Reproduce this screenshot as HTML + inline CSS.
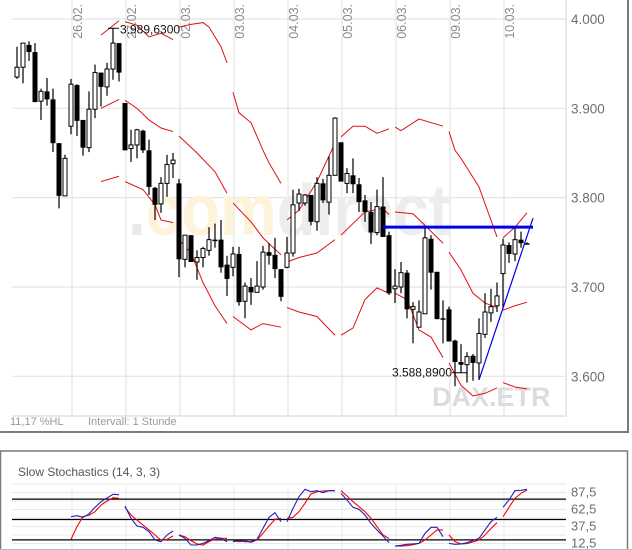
<!DOCTYPE html>
<html><head><meta charset="utf-8"><style>
html,body{margin:0;padding:0;background:#fff;}
svg{display:block;font-family:"Liberation Sans",sans-serif;}
</style></head><body>
<svg id="chart" width="632" height="550" viewBox="0 0 632 550" xmlns="http://www.w3.org/2000/svg">
<g id="main"></g>
<g id="stoch"></g>
</svg>
<script>
// ---- data ----
const dayLabels = ["26.02.","27.02.","02.03.","03.03.","04.03.","05.03.","06.03.","09.03.","10.03."];
const dayStart = [9,18,27,36,45,54,63,72,81];
const priceTicks = [4000,3900,3800,3700,3600];
const priceTickLabels = ["4.000","3.900","3.800","3.700","3.600"];
const opens  = [3935,3946,3971,3963,3908,3919,3910,3861,3802,3880,3926,3887,3856,3899,3940,3924,3944,3973,3906,3855,3859,3875,3853,3811,3793,3816,3838,3816,3731,3758,3728,3733,3741,3753,3753,3725,3722,3737,3684,3700,3694,3700,3739,3736,3720,3722,3738,3794,3794,3803,3773,3816,3795,3825,3862,3816,3825,3815,3797,3784,3761,3790,3758,3698,3700,3716,3675,3655,3670,3754,3717,3665,3675,3640,3616,3613,3623,3615,3647,3671,3679,3715,3747,3737,3753,3749];
const highs  = [3969,3973,3975,3973,3922,3934,3922,3861,3848,3933,3927,3887,3919,3949,3940,3951,3989.63,3973,3906,3876,3877,3876,3865,3812,3823,3848,3850,3821,3758,3758,3741,3745,3767,3771,3775,3735,3745,3745,3705,3710,3729,3746,3749,3755,3720,3756,3809,3810,3804,3803,3823,3821,3846,3890,3862,3833,3844,3822,3803,3795,3809,3823,3762,3720,3728,3719,3683,3685,3767,3758,3717,3685,3678,3641,3636,3627,3625,3665,3693,3698,3705,3754,3750,3768,3762,3750];
const lows   = [3933,3928,3953,3907,3887,3903,3851,3788,3802,3871,3869,3847,3851,3889,3902,3914,3932,3930,3853,3840,3844,3850,3803,3775,3783,3801,3822,3711,3722,3728,3708,3722,3735,3744,3716,3690,3712,3679,3665,3680,3694,3697,3725,3710,3684,3721,3734,3785,3791,3769,3763,3794,3781,3825,3818,3805,3805,3784,3773,3748,3758,3756,3691,3682,3693,3665,3637,3655,3670,3697,3664,3637,3639,3588.89,3604,3593,3595,3596,3643,3661,3672,3677,3727,3729,3744,3748];
const closes = [3946,3973,3963,3907,3919,3910,3861,3802,3844,3927,3886,3856,3899,3940,3924,3944,3973,3940,3853,3859,3876,3853,3812,3792,3816,3837,3842,3731,3758,3728,3733,3743,3753,3752,3722,3709,3737,3683,3701,3694,3701,3739,3735,3720,3689,3738,3792,3804,3803,3773,3816,3797,3825,3889,3818,3827,3815,3795,3784,3761,3790,3756,3693,3701,3716,3675,3678,3672,3755,3716,3664,3664,3639,3616,3613,3622,3615,3648,3672,3678,3690,3747,3737,3753,3749,3748];
// Bollinger bands: per-day segments of [candleIndex, price]
const bbUpper = [
 [[14,3982],[17,3998]],
 [[18,3997],[20,3993],[22,3980],[24,3984],[26,3977]],
 [[27,3991],[29,3994],[31,3996],[32,3991],[34,3969],[35,3951]],
 [[36,3918],[37,3895],[39,3884],[41,3853],[42,3839],[44,3816]],
 [[45,3775],[47,3786],[50,3818],[53,3861]],
 [[54,3868],[56,3880],[58,3880],[60,3872],[62,3877]],
 [[63,3879],[64,3875],[67,3888],[71,3880]],
 [[72,3874],[73,3853],[74,3844],[77,3812],[80,3756]],
 [[81,3755],[83,3767],[85,3783]]];
const bbMiddle = [
 [[14,3900],[17,3910]],
 [[18,3909],[20,3900],[22,3887],[24,3878],[26,3874]],
 [[27,3869],[30,3850],[33,3829],[35,3805]],
 [[36,3794],[39,3773],[41,3755],[44,3736]],
 [[45,3728],[47,3733],[50,3738],[53,3753]],
 [[54,3758],[58,3784],[61,3788],[62,3781]],
 [[63,3784],[66,3782],[68,3769],[71,3749]],
 [[72,3739],[74,3719],[76,3693],[78,3682],[80,3677]],
 [[81,3674],[83,3679],[85,3683]]];
const bbLower = [
 [[14,3818],[17,3824]],
 [[18,3818],[21,3809],[23,3792],[24,3775],[26,3772]],
 [[27,3753],[29,3738],[31,3705],[33,3679],[35,3659]],
 [[36,3667],[39,3652],[41,3659],[44,3655]],
 [[45,3677],[47,3672],[50,3667],[53,3646]],
 [[54,3646],[56,3654],[58,3686],[60,3699],[62,3693]],
 [[63,3693],[65,3686],[67,3652],[69,3644],[71,3621]],
 [[72,3615],[74,3590],[76,3578],[78,3581],[80,3587]],
 [[81,3593],[83,3588],[85,3586]]];
const resistanceLine = [[61,3767],[86,3767]];
const trendLine = [[77,3596],[86,3777]];
const maxLabel = "3.989,6300", minLabel = "3.588,8900";
const maxIdx = 16, minIdx = 74;
// Stochastics
const stochTicks = [87.5,62.5,37.5,12.5];
const stochTickLabels = ["87,5","62,5","37,5","12,5"];
const stochLevels = [80,50,20];
const stochK = [
 [52,53.4,51,56,65.7,74,79.5,84.8,84.3],
 [67.6,49.5,38.2,36.3,29.9,17.6,15.2,25,30.9],
 [25,20.1,10.3,10.3,12.7,16.7,21.6,20.1,15.2],
 [15.2,16.7,15.2,15.2,18.6,34.8,51,57.8,44.6],
 [44.6,64.2,81.4,92.2,88.7,90.2,87.3,90.2,90.2],
 [86.3,76.5,65.7,62.8,54.4,42,32.4,23.5,13.7],
 [8.8,9.8,11.3,11.8,12.7,27.5,36.3,36.3,22.5],
 [12.7,11.3,11.8,13.7,16.7,20.1,32.4,44.6,51],
 [65.7,76.5,90.2,90.7,92.2]];
const stochD = [
 [18.6,37.3,52,54,59.3,69,75,79.9,78.9],
 [65.7,54.4,47,39.6,32.4,25,17.6,18.6,23.5],
 [25,22.5,16.7,11.8,10.3,15.2,19.1,20.1,20.1],
 [16.7,15.2,16.7,14.2,17.6,27.5,38.2,48,49.5],
 [49.5,51,59.3,71.6,85.3,88.7,89.7,90.2,90.2],
 [90.2,82.4,74,66.6,59.3,49.5,37.3,25,20.1],
 [8.8,8.8,9.3,10.8,12.7,17.6,25,32.4,32.4],
 [25,15.2,11.8,12.3,14.7,17.6,25,34.8,43.1],
 [52,65.7,78.9,86.3,91.2]];

// ---- scales ----
const NS="http://www.w3.org/2000/svg";
const X = i => 17 + 6*i;
const Y = p => 19 + (4000-p)*0.8933;
const SY = v => 543.5 - (v-12.5)*0.68;
function mk(tag, attrs, parent, text){
  const e=document.createElementNS(NS,tag);
  for(const k in attrs) e.setAttribute(k,attrs[k]);
  if(text!==undefined) e.textContent=text;
  parent.appendChild(e); return e;
}
const main=document.getElementById('main');
const st=document.getElementById('stoch');
const PL=12, PR=566, PB=416;

// grid
priceTicks.forEach((p,k)=>{
  const l=mk('line',{x1:PL,x2:PR,y1:Y(p),y2:Y(p),stroke:'#e4e4e4','stroke-width':1.2},main);
  
  
  const t=mk('text',{x:571,y:Y(p)+5,'font-size':13.5,fill:'#6e6e6e'},main,priceTickLabels[k]);
  
  
});
dayStart.forEach((d,k)=>{
  const gx=X(d)+1;
  const l=mk('line',{x1:gx,x2:gx,y1:0,y2:PB,stroke:'#e4e4e4','stroke-width':1.2},main);
  
  
  const t=mk('text',{transform:`translate(${gx+10},4) rotate(-90)`,'text-anchor':'end','font-size':12.5,fill:'#8a8a8a'},main,dayLabels[k]);
  
  
});
// watermarks
const wm=mk('text',{x:128,y:235,'font-size':72,'font-weight':'bold',textLength:322,lengthAdjust:'spacingAndGlyphs'},main);


mk('tspan',{fill:'#e9e9e9'},wm,'.');
mk('tspan',{fill:'#fdf3da'},wm,'com');
mk('tspan',{fill:'#ededed'},wm,'direct');
const dx=mk('text',{x:432,y:406,'font-size':27,'font-weight':'bold',fill:'#dcdcdc'},main,'DAX.ETR');


// plot border
const pb=mk('polyline',{points:`${PL},${PB} ${PR},${PB} ${PR},0`,fill:'none',stroke:'#dcdcdc','stroke-width':1.2},main);



// bands
function drawSegs(segs,name){
  segs.forEach(s=>{
    const pl=mk('polyline',{points:s.map(q=>X(q[0])+','+Y(q[1])).join(' '),fill:'none',stroke:'#e01010','stroke-width':1},main);
    
    
  });
}
drawSegs(bbUpper,'bollinger-upper');
drawSegs(bbMiddle,'bollinger-middle');
drawSegs(bbLower,'bollinger-lower');

// candles
opens.forEach((o,i)=>{
  const c=closes[i], h=highs[i], lo=lows[i], x=X(i);
  const g=mk('g',{},main);
  
  
  mk('line',{x1:x,x2:x,y1:Y(h),y2:Y(lo),stroke:'#000','stroke-width':1.2},g);
  const top=Y(Math.max(o,c)), bot=Y(Math.min(o,c));
  if(c>=o) mk('rect',{x:x-2,y:top,width:4,height:Math.max(1,bot-top),fill:'#fff',stroke:'#000','stroke-width':1},g);
  else mk('rect',{x:x-2.5,y:top,width:5,height:Math.max(1.5,bot-top),fill:'#000'},g);
});
// lines
const rl=mk('line',{x1:X(resistanceLine[0][0]),y1:Y(resistanceLine[0][1]),x2:X(resistanceLine[1][0]),y2:Y(resistanceLine[1][1]),stroke:'#0000ee','stroke-width':3},main);


const tl=mk('line',{x1:X(trendLine[0][0]),y1:Y(trendLine[0][1]),x2:X(trendLine[1][0]),y2:Y(trendLine[1][1]),stroke:'#0000ee','stroke-width':1.2},main);


// extreme labels
const mxx=X(maxIdx), mxy=Y(highs[maxIdx]);
mk('line',{x1:mxx-5,x2:mxx+6,y1:mxy,y2:mxy,stroke:'#000','stroke-width':1},main);
const mt=mk('text',{x:mxx+7,y:mxy+5,'font-size':12,fill:'#111'},main,maxLabel);


const mnx=X(minIdx), mny=Y(lows[minIdx]);
mk('line',{x1:mnx-9,x2:mnx+6,y1:mny,y2:mny,stroke:'#000','stroke-width':1},main);
const nt=mk('text',{x:mnx-9,y:mny+4,'text-anchor':'end','font-size':12,fill:'#111'},main,minLabel);


// footer
const f1=mk('text',{x:10,y:425,'font-size':11,fill:'#9a9a9a'},main,'11,17 %HL');


const f2=mk('text',{x:88,y:425,'font-size':11,fill:'#9a9a9a'},main,'Intervall: 1 Stunde');


// main frame
const mf=mk('polyline',{points:'0,432 628,432 628,0',fill:'none',stroke:'#7a7a7a','stroke-width':2},main);



// ---- stochastics ----
const sf=mk('rect',{x:0.5,y:451,width:627,height:110,fill:'none',stroke:'#7a7a7a','stroke-width':1.5},st);


const stt=mk('text',{x:18,y:476,'font-size':12,fill:'#555'},st,'Slow Stochastics (14, 3, 3)');


[100,87.5,75,62.5,50,37.5,25,12.5,0].forEach(v=>{
  const l=mk('line',{x1:PL,x2:PR,y1:SY(v),y2:SY(v),stroke:'#e8e8e8','stroke-width':1},st);
  
  
});
dayStart.forEach(d=>{
  const l=mk('line',{x1:X(d)+1,x2:X(d)+1,y1:486,y2:550,stroke:'#e8e8e8','stroke-width':1},st);
  
  
});
stochLevels.forEach(v=>{
  const l=mk('line',{x1:PL,x2:PR,y1:SY(v)+1.5,y2:SY(v)+1.5,stroke:'#000','stroke-width':1.2},st);
  
  
});
stochTicks.forEach((v,k)=>{
  const t=mk('text',{x:571,y:SY(v)+4,'font-size':13,fill:'#6e6e6e'},st,stochTickLabels[k]);
  
  
});
function drawStoch(series,color,name){
  series.forEach((vals,k)=>{
    const s=dayStart[k];
    const pl=mk('polyline',{points:vals.map((v,j)=>X(s+j)+','+SY(v)).join(' '),fill:'none',stroke:color,'stroke-width':1.1},st);
    
    
  });
}
drawStoch(stochD,'#ff0000','stochastic-d-line');
drawStoch(stochK,'#2020c0','stochastic-k-line');
const bm=mk('rect',{x:0,y:549,width:632,height:1,fill:'#bbb'},st);


</script>
</body></html>
